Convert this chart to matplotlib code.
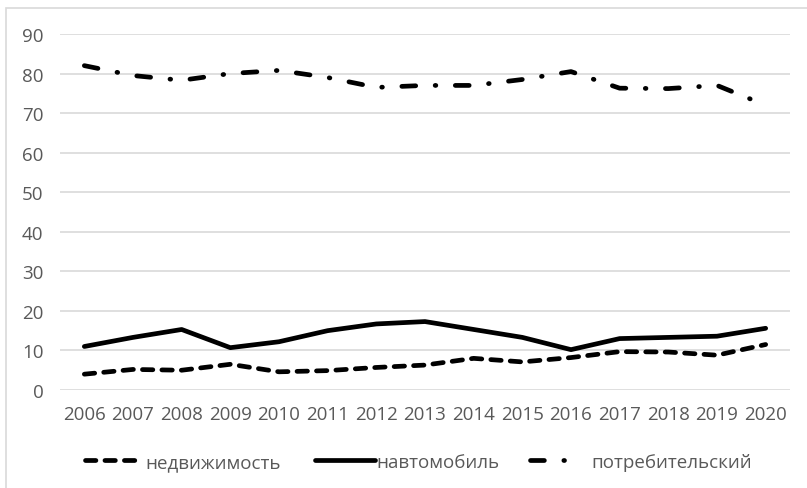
import numpy as np
import matplotlib.pyplot as plt
from matplotlib.patches import Rectangle

plt.rcParams['font.family'] = ['Open Sans', 'DejaVu Sans']
plt.rcParams['lines.scale_dashes'] = False

# Data
years = ['2006', '2007', '2008', '2009', '2010', '2011', '2012', '2013',
         '2014', '2015', '2016', '2017', '2018', '2019', '2020']
real_estate = [4.0, 5.2, 5.0, 6.5, 4.6, 4.9, 5.7, 6.3, 8.0, 7.1, 8.2, 9.7, 9.6, 8.8, 11.5]
auto = [11.0, 13.3, 15.3, 10.7, 12.2, 15.0, 16.7, 17.3, 15.3, 13.3, 10.2, 13.0, 13.3, 13.6, 15.6]
consumer = [82.0, 79.5, 78.3, 80.0, 80.8, 79.0, 76.5, 77.0, 77.0, 78.5, 80.5, 76.3, 76.2, 77.0, 72.0]

text_color = '#595959'
grid_color = '#d9d9d9'
W, H = 807, 489
fs = 13.5

fig = plt.figure(figsize=(W / 100, H / 100), dpi=100)
ax = fig.add_axes([60 / W, 1 - 391 / H, 730 / W, 356 / H])

# light frame of the chart area
fig.patches.append(Rectangle((6 / W, -0.1), 1.2, 1 - 9 / H + 0.1,
                             transform=fig.transFigure, fill=False,
                             edgecolor=grid_color, lw=1.2))

x = np.arange(len(years))
lw = 3.4
styles = [
    dict(dashes=(7.5, 6.5), dash_capstyle='round'),
    dict(solid_capstyle='round'),
    dict(dashes=(10, 14, 0.5, 14), dash_capstyle='round'),
]
labels = ['недвижимость', 'навтомобиль', 'потребительский']
lines = []
for series, st, lab in zip([real_estate, auto, consumer], styles, labels):
    ln, = ax.plot(x, series, color='black', lw=lw, solid_joinstyle='round',
                  label=lab, **st)
    lines.append(ln)

ax.set_xlim(-0.5, len(years) - 0.5)
ax.set_ylim(0, 90)
ax.set_yticks(range(0, 91, 10))
ax.set_xticks(x)
ax.set_xticklabels(years)
ax.grid(axis='y', color=grid_color, lw=1.2)
ax.set_axisbelow(True)
for s in ax.spines.values():
    s.set_visible(False)
ax.tick_params(axis='both', length=0, labelsize=fs, labelcolor=text_color)
ax.tick_params(axis='y', pad=12)
ax.tick_params(axis='x', pad=11)

# legend entries laid out one by one, as in the original
em = fs * 100 / 72
legend_pos = [(85, 50, 0.57), (315, 60, 0.05), (530, 36, 1.33)]
for ln, (x0, hl, tp) in zip(lines, legend_pos):
    leg = fig.legend(handles=[ln], loc='center left',
                     bbox_to_anchor=(x0 / W, 1 - 463 / H), frameon=False,
                     fontsize=fs, handlelength=hl / em, handletextpad=tp,
                     borderpad=0, borderaxespad=0)
    leg.get_texts()[0].set_color(text_color)

fig.savefig('out.png', dpi=100)
